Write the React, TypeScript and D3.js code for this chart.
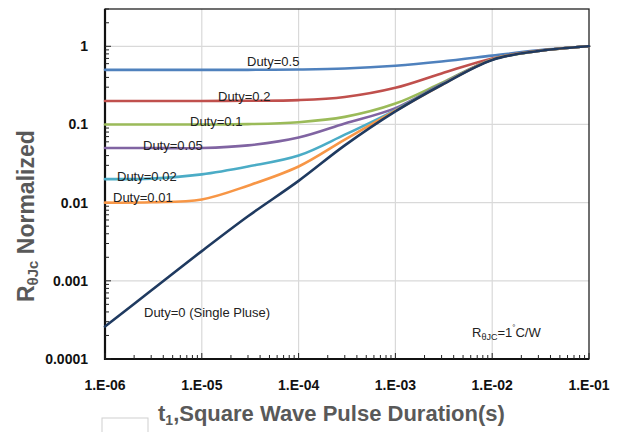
import React from "react";
import * as d3 from "d3";

// pulse duration (s) sample points
const durations = [1e-6, 3e-6, 1e-5, 3e-5, 1e-4, 3e-4, 1e-3, 3e-3, 1e-2, 3e-2, 1e-1];

// normalized thermal impedance
const duty05 = [0.5, 0.5, 0.5, 0.5, 0.505, 0.52, 0.565, 0.64, 0.76, 0.89, 1.0];
const duty02 = [0.2, 0.2, 0.2, 0.201, 0.205, 0.225, 0.295, 0.45, 0.7, 0.875, 1.0];
const duty01 = [0.1, 0.1, 0.1, 0.101, 0.107, 0.125, 0.185, 0.34, 0.68, 0.87, 1.0];
const duty005 = [0.05, 0.05, 0.05, 0.054, 0.068, 0.103, 0.162, 0.33, 0.68, 0.87, 1.0];
const duty002 = [0.02, 0.0203, 0.023, 0.029, 0.04, 0.074, 0.153, 0.325, 0.68, 0.87, 1.0];
const duty001 = [0.01, 0.0101, 0.011, 0.0165, 0.029, 0.064, 0.15, 0.32, 0.68, 0.87, 1.0];
const single = [0.00026, 0.00075, 0.0024, 0.0067, 0.019, 0.054, 0.147, 0.32, 0.67, 0.87, 1.0];

const xTicks = [1e-6, 1e-5, 1e-4, 1e-3, 1e-2, 1e-1];
const xTickLabels = ["1.E-06", "1.E-05", "1.E-04", "1.E-03", "1.E-02", "1.E-01"];
const yTicks = [1e-4, 1e-3, 1e-2, 1e-1, 1];
const yTickLabels = ["0.0001", "0.001", "0.01", "0.1", "1"];

const series = [
  { name: "Duty=0.5", values: duty05, color: "#4F81BD", lx: 247, ly: 66 },
  { name: "Duty=0.2", values: duty02, color: "#C0504D", lx: 218, ly: 101 },
  { name: "Duty=0.1", values: duty01, color: "#9BBB59", lx: 190, ly: 126 },
  { name: "Duty=0.05", values: duty005, color: "#8064A2", lx: 143, ly: 150 },
  { name: "Duty=0.02", values: duty002, color: "#4BACC6", lx: 117, ly: 181 },
  { name: "Duty=0.01", values: duty001, color: "#F79646", lx: 113, ly: 202 },
  { name: "Duty=0 (Single Pluse)", values: single, color: "#1F3A60", lx: 144, ly: 317 },
];

const W = 618;
const H = 432;
const left = 105, right = 589, top = 9, bottom = 359;

export default function App() {
  const x = d3.scaleLog().domain([1e-6, 1e-1]).range([left, right]);
  const y = d3.scaleLog().domain([1e-4, 3]).range([bottom, top]);

  const line = d3
    .line<number>()
    .x((_, i) => x(durations[i]))
    .y((d) => y(d))
    .curve(d3.curveCatmullRom.alpha(0.5));

  // minor ticks 2..9 each decade
  const xMinor: number[] = [];
  for (let e = -6; e < -1; e++) for (let m = 2; m <= 9; m++) xMinor.push(m * Math.pow(10, e));
  const yMinor: number[] = [];
  for (let e = -4; e <= 0; e++)
    for (let m = 2; m <= 9; m++) {
      const v = m * Math.pow(10, e);
      if (v <= 3) yMinor.push(v);
    }

  const tickFont = "'Liberation Sans', Arial, sans-serif";

  return (
    <div style={{ position: "absolute", left: 0, top: 0 }}>
      <svg width={W} height={H} viewBox={`0 0 ${W} ${H}`} style={{ display: "block", background: "#fff" }}>
        {/* grid */}
        <g stroke="#d9d9d9" strokeWidth={1.2}>
          {xTicks.slice(1, -1).map((t) => (
            <line key={"gx" + t} x1={x(t)} x2={x(t)} y1={top} y2={bottom} />
          ))}
          {yTicks.slice(1).map((t) => (
            <line key={"gy" + t} x1={left} x2={right} y1={y(t)} y2={y(t)} />
          ))}
        </g>

        {/* frame */}
        <rect x={left} y={top} width={right - left} height={bottom - top} fill="none" stroke="#222" strokeWidth={1.3} />
        <line x1={left} x2={left} y1={top} y2={bottom + 1} stroke="#111" strokeWidth={2.2} />
        <line x1={left - 1} x2={right} y1={bottom} y2={bottom} stroke="#111" strokeWidth={2.2} />

        {/* ticks */}
        <g stroke="#222" strokeWidth={1}>
          {xMinor.map((t, i) => (
            <line key={"xm" + i} x1={x(t)} x2={x(t)} y1={bottom} y2={bottom - 4} />
          ))}
          {xTicks.map((t) => (
            <line key={"xM" + t} x1={x(t)} x2={x(t)} y1={bottom} y2={bottom - 6} />
          ))}
          {yMinor.map((t, i) => (
            <line key={"ym" + i} x1={left} x2={left + 4} y1={y(t)} y2={y(t)} />
          ))}
          {yTicks.map((t) => (
            <line key={"yM" + t} x1={left} x2={left + 6} y1={y(t)} y2={y(t)} />
          ))}
        </g>

        {/* tick labels */}
        <g fontFamily={tickFont} fontWeight="bold" fontSize={14} fill="#111">
          {xTicks.map((t, i) => (
            <text key={"xl" + t} x={x(t)} y={390} textAnchor="middle">
              {xTickLabels[i]}
            </text>
          ))}
          {yTicks.map((t, i) => (
            <text key={"yl" + t} x={88} y={y(t) + 5} textAnchor="end">
              {yTickLabels[i]}
            </text>
          ))}
        </g>

        {/* curves */}
        <g fill="none" strokeWidth={2.6} strokeLinecap="round">
          {series.map((s) => (
            <path key={s.name} d={line(s.values) || ""} stroke={s.color} />
          ))}
        </g>

        {/* curve labels */}
        <g fontFamily={tickFont} fontSize={13} fill="#222">
          {series.map((s) => (
            <text key={"l" + s.name} x={s.lx} y={s.ly}>
              {s.name}
            </text>
          ))}
          <text x={472} y={337}>
            R<tspan fontSize={9} dy={3}>θJC</tspan>
            <tspan dy={-3}>=1</tspan>
            <tspan fontSize={8} dy={-7}>°</tspan>
            <tspan dy={7}>C/W</tspan>
          </text>
        </g>

        {/* axis titles */}
        <text
          transform="translate(34,302) rotate(-90)"
          fontFamily={tickFont}
          fontWeight="bold"
          fontSize={23}
          fill="#595959"
        >
          R<tspan fontSize={15} dy={4}>θJc</tspan>
          <tspan dy={-4}> Normalized</tspan>
        </text>

        <rect x={102} y={418} width={46} height={20} fill="none" stroke="#cfcfcf" strokeWidth={1} />
        <text x={158} y={421} fontFamily={tickFont} fontWeight="bold" fontSize={22} fill="#595959">
          t<tspan fontSize={14} dy={4}>1</tspan>
          <tspan dy={-4}>,Square Wave Pulse Duration(s)</tspan>
        </text>
      </svg>
    </div>
  );
}
